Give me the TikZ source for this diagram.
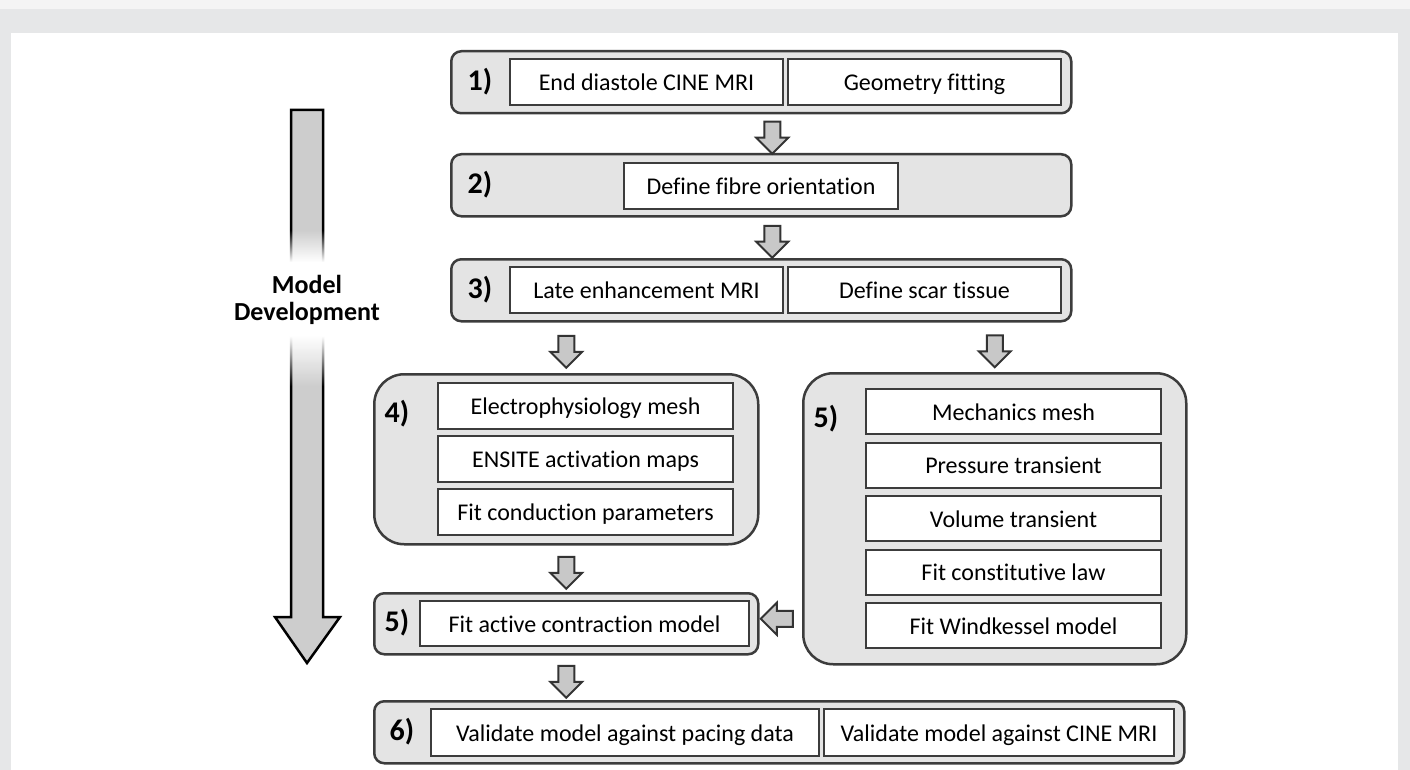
\documentclass[tikz,border=0pt]{standalone}
\usepackage{fontspec}
\setmainfont{Carlito}[Ligatures=NoCommon]
\usetikzlibrary{calc}
\usetikzlibrary{shapes.arrows}
\usetikzlibrary{fadings}
\usetikzlibrary{positioning}
\definecolor{frame-grey}{RGB}{230, 231, 232}
\definecolor{frame-top}{RGB}{244, 244, 244}
\definecolor{stage-grey}{RGB}{228, 228, 228}
\definecolor{edge-grey}{RGB}{60, 60, 60}
\definecolor{arrow-grey}{RGB}{200, 200, 200}
\definecolor{big-grey}{RGB}{205, 205, 205}
\tikzset{
  stage/.style={draw=edge-grey, fill=stage-grey, line width=2.5pt, rounded corners=10pt, anchor=north west, inner sep=0pt},
  bigstage/.style={stage, rounded corners=30pt},
  task/.style={draw=edge-grey, fill=white, line width=2pt, anchor=north west, inner sep=0pt, minimum height=46pt, text height=20pt, text depth=3pt, font=\fontsize{24}{28}\selectfont},
  num/.style={font=\fontsize{30}{32}\selectfont\bfseries},
  flow/.style={single arrow, draw=black!80, fill=arrow-grey, line width=2pt, inner sep=7pt, minimum height=32pt, single arrow head extend=8pt}
}

\begin{document}
\begin{tikzpicture}[x=1pt, y=-1pt]
\useasboundingbox (0,0) rectangle (1410,770);
\fill[frame-grey] (0,0) rectangle (1410,770);
\fill[frame-top] (0,0) rectangle (1410,9);
\fill[white] (11,33) rectangle (1398,770);

% development arrow
\filldraw[fill=big-grey, draw=black, line width=2.5pt, line join=miter]
  (291,110) -- (323,110) -- (323,617) -- (340,617) -- (307,663) -- (275,617) -- (291,617) -- cycle;
\fill[white, path fading=north] (280,230) rectangle (335,262);
\fill[white] (280,262) rectangle (335,336);
\fill[white, path fading=south] (280,336) rectangle (335,386);
\node[font=\fontsize{26}{27}\selectfont\bfseries, align=center] (devlabel) at (307,300) {Model\\Development};

% stages
\node[stage, minimum width=620pt, minimum height=62pt] (stage1) at (450,50) {};
\node[stage, minimum width=620pt, minimum height=62pt] (stage2) at (450,153) {};
\node[stage, minimum width=620pt, minimum height=62pt] (stage3) at (450,258) {};
\node[bigstage, minimum width=384pt, minimum height=170pt] (stage4) at (373,373) {};
\node[stage, minimum width=384pt, minimum height=61pt] (stage5a) at (373,592) {};
\node[bigstage, minimum width=383pt, minimum height=291pt] (stage5b) at (802,372) {};
\node[stage, minimum width=810pt, minimum height=62pt] (stage6) at (373,700) {};

\node[num] (n1) at (480,82) {1)};
\node[num] (n2) at (480,185) {2)};
\node[num] (n3) at (480,290) {3)};
\node[num] (n4) at (397,414) {4)};
\node[num] (n5a) at (397,623) {5)};
\node[num] (n5b) at (826,419) {5)};
\node[num] (n6) at (402,732) {6)};

\node[task, minimum width=273pt] (cine) at (509,58) {End diastole CINE MRI};
\node[task, minimum width=273pt] (geom) at (787,58) {Geometry fitting};
\node[task, minimum width=274pt] (fibre) at (623,162) {Define fibre orientation};
\node[task, minimum width=273pt] (late) at (509,266) {Late enhancement MRI};
\node[task, minimum width=273pt] (scar) at (787,266) {Define scar tissue};

\node[task, minimum width=295pt] (epmesh) at (437,382) {Electrophysiology mesh};
\node[task, minimum width=295pt] (ensite) at (437,435) {ENSITE activation maps};
\node[task, minimum width=295pt] (cond) at (437,488) {Fit conduction parameters};

\node[task, minimum width=329pt, minimum height=45pt] (active) at (419,600) {Fit active contraction model};

\node[task, minimum width=295pt, minimum height=45pt] (mechmesh) at (865,388) {Mechanics mesh};
\node[task, minimum width=295pt, minimum height=45pt] (press) at (865,441.5) {Pressure transient};
\node[task, minimum width=295pt, minimum height=45pt] (vol) at (865,495) {Volume transient};
\node[task, minimum width=295pt, minimum height=45pt] (law) at (865,548.5) {Fit constitutive law};
\node[task, minimum width=295pt, minimum height=45pt] (wind) at (865,602) {Fit Windkessel model};

\node[task, minimum width=388pt, minimum height=47pt] (pacing) at (430,708) {Validate model against pacing data};
\node[task, minimum width=350pt, minimum height=47pt] (cinecheck) at (823,708) {Validate model against CINE MRI};

% connectors
\node[flow, shape border rotate=270, xshift=11pt] (a12) at ($(stage1.south)!0.5!(stage2.north)$) {};
\node[flow, shape border rotate=270, xshift=11pt] (a23) at ($(stage2.south)!0.5!(stage3.north)$) {};
\node[flow, shape border rotate=270] (a34) at ($(stage3.south -| stage4.north)!0.5!(stage4.north)$) {};
\node[flow, shape border rotate=270] (a35) at ($(stage3.south -| stage5b.north)!0.5!(stage5b.north)$) {};
\node[flow, shape border rotate=270] (a45) at ($(stage4.south)!0.5!(stage5a.north)$) {};
\node[flow, shape border rotate=270] (a56) at ($(stage5a.south)!0.5!(stage6.north -| stage5a.south)$) {};
\node[flow, shape border rotate=180, yshift=5pt] (a55) at ($(stage5a.east)!0.5!(stage5b.west |- stage5a.east)$) {};
\end{tikzpicture}
\end{document}
